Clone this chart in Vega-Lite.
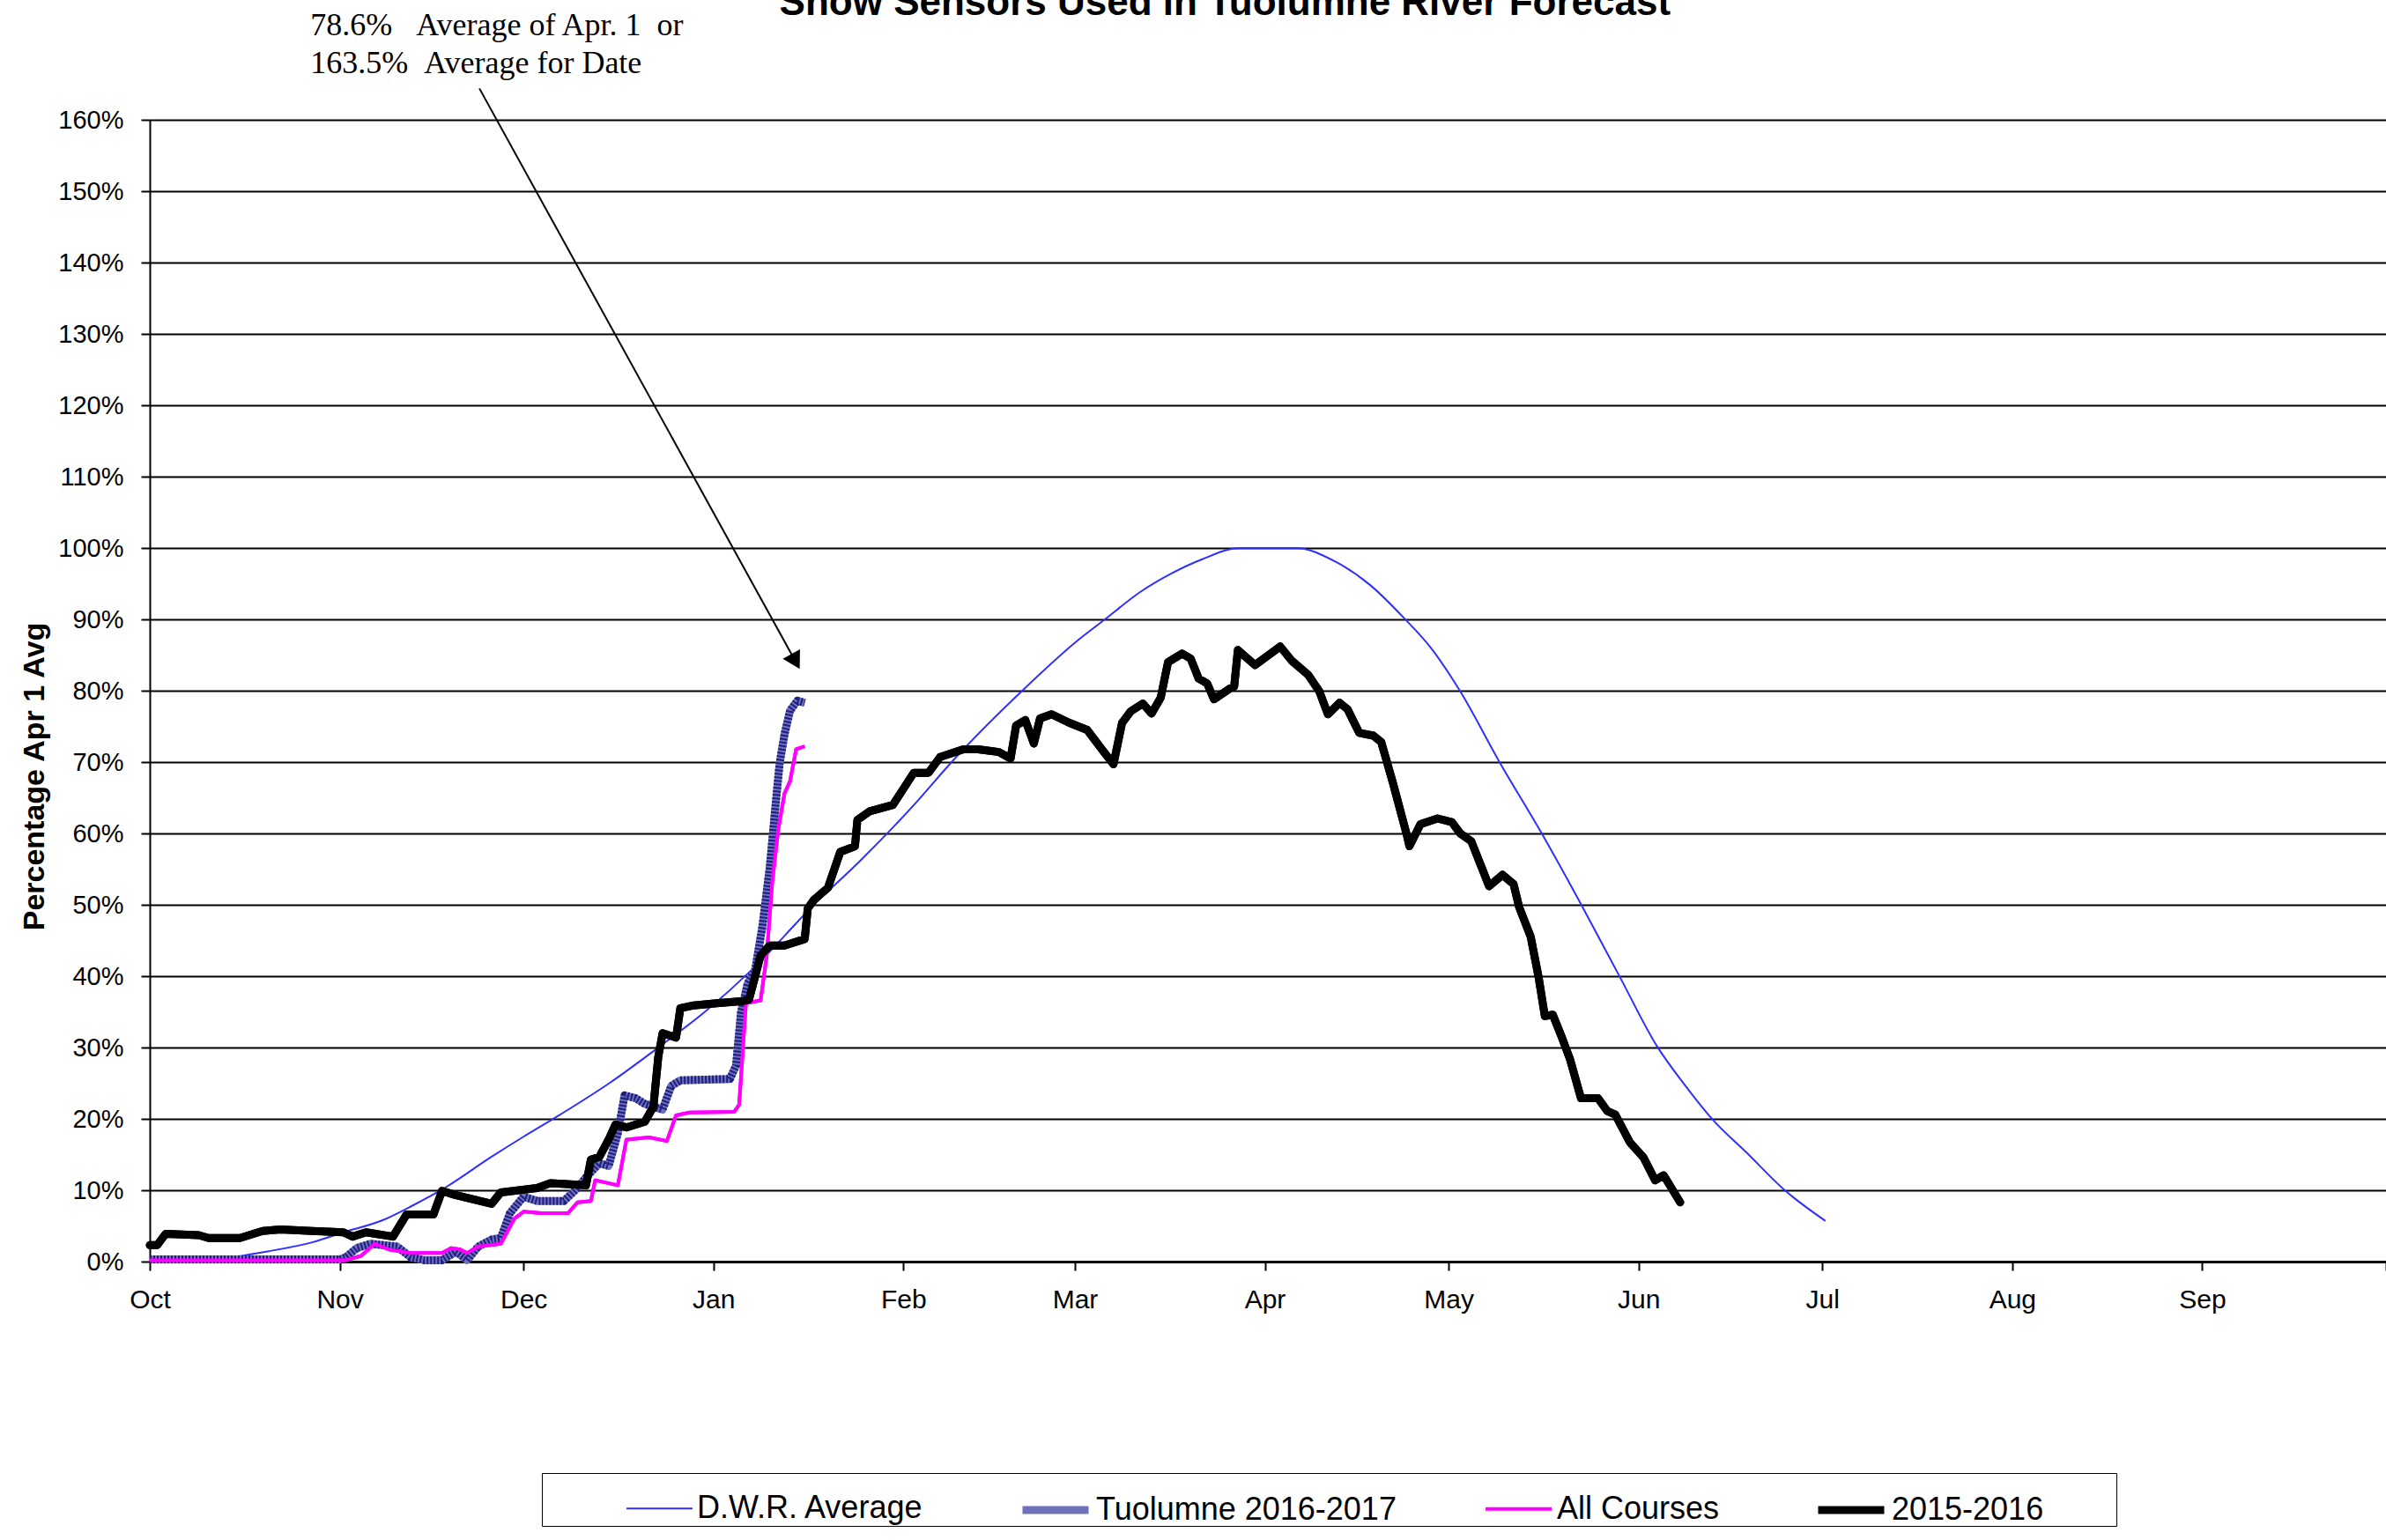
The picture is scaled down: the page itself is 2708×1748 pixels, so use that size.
{
  "$schema": "https://vega.github.io/schema/vega-lite/v6.json",
  "autosize": {"type": "none"},
  "width": 2538,
  "height": 1296,
  "padding": {"left": 170, "top": 136, "right": 0, "bottom": 316},
  "background": "white",
  "config": {"view": {"stroke": null}},
  "datasets": {
    "lines": [
      {"series": "D.W.R. Average", "day": 0, "pct": 0},
      {"series": "D.W.R. Average", "day": 7, "pct": 0.1},
      {"series": "D.W.R. Average", "day": 14, "pct": 0.7},
      {"series": "D.W.R. Average", "day": 19, "pct": 1.4},
      {"series": "D.W.R. Average", "day": 26.5, "pct": 2.7},
      {"series": "D.W.R. Average", "day": 31.6, "pct": 4.1},
      {"series": "D.W.R. Average", "day": 38, "pct": 5.8},
      {"series": "D.W.R. Average", "day": 43, "pct": 7.9},
      {"series": "D.W.R. Average", "day": 47.7, "pct": 10.1},
      {"series": "D.W.R. Average", "day": 55.8, "pct": 14.7},
      {"series": "D.W.R. Average", "day": 61, "pct": 17.5},
      {"series": "D.W.R. Average", "day": 66.8, "pct": 20.5},
      {"series": "D.W.R. Average", "day": 75, "pct": 25},
      {"series": "D.W.R. Average", "day": 83, "pct": 30},
      {"series": "D.W.R. Average", "day": 90.6, "pct": 35},
      {"series": "D.W.R. Average", "day": 98.4, "pct": 41},
      {"series": "D.W.R. Average", "day": 108.4, "pct": 50},
      {"series": "D.W.R. Average", "day": 116, "pct": 56.2},
      {"series": "D.W.R. Average", "day": 124.2, "pct": 63.5},
      {"series": "D.W.R. Average", "day": 131.4, "pct": 70.5},
      {"series": "D.W.R. Average", "day": 142.4, "pct": 80},
      {"series": "D.W.R. Average", "day": 151.1, "pct": 86.8},
      {"series": "D.W.R. Average", "day": 155.9, "pct": 90},
      {"series": "D.W.R. Average", "day": 161.6, "pct": 93.8},
      {"series": "D.W.R. Average", "day": 166.9, "pct": 96.5},
      {"series": "D.W.R. Average", "day": 171.7, "pct": 98.4},
      {"series": "D.W.R. Average", "day": 178, "pct": 100},
      {"series": "D.W.R. Average", "day": 187, "pct": 100},
      {"series": "D.W.R. Average", "day": 193.7, "pct": 98},
      {"series": "D.W.R. Average", "day": 199.2, "pct": 94.8},
      {"series": "D.W.R. Average", "day": 204.7, "pct": 90.2},
      {"series": "D.W.R. Average", "day": 209.3, "pct": 85.8},
      {"series": "D.W.R. Average", "day": 213.9, "pct": 79.9},
      {"series": "D.W.R. Average", "day": 220.3, "pct": 70},
      {"series": "D.W.R. Average", "day": 227.2, "pct": 60},
      {"series": "D.W.R. Average", "day": 233.6, "pct": 50.1},
      {"series": "D.W.R. Average", "day": 240, "pct": 39.8},
      {"series": "D.W.R. Average", "day": 246, "pct": 30.2},
      {"series": "D.W.R. Average", "day": 250.5, "pct": 24.8},
      {"series": "D.W.R. Average", "day": 255.1, "pct": 19.9},
      {"series": "D.W.R. Average", "day": 260.6, "pct": 15.3},
      {"series": "D.W.R. Average", "day": 267, "pct": 9.9},
      {"series": "D.W.R. Average", "day": 273.5, "pct": 5.7},

      {"series": "Tuolumne 2016-2017", "day": 0, "pct": 0.3},
      {"series": "Tuolumne 2016-2017", "day": 31, "pct": 0.3},
      {"series": "Tuolumne 2016-2017", "day": 32, "pct": 0.6},
      {"series": "Tuolumne 2016-2017", "day": 33.8, "pct": 1.9},
      {"series": "Tuolumne 2016-2017", "day": 36, "pct": 2.5},
      {"series": "Tuolumne 2016-2017", "day": 40.4, "pct": 2.1},
      {"series": "Tuolumne 2016-2017", "day": 42.6, "pct": 0.6},
      {"series": "Tuolumne 2016-2017", "day": 44.8, "pct": 0.2},
      {"series": "Tuolumne 2016-2017", "day": 47.7, "pct": 0.2},
      {"series": "Tuolumne 2016-2017", "day": 50, "pct": 1.4},
      {"series": "Tuolumne 2016-2017", "day": 51.8, "pct": 0.2},
      {"series": "Tuolumne 2016-2017", "day": 53.6, "pct": 2.1},
      {"series": "Tuolumne 2016-2017", "day": 55.8, "pct": 3.1},
      {"series": "Tuolumne 2016-2017", "day": 57.3, "pct": 3.3},
      {"series": "Tuolumne 2016-2017", "day": 58.8, "pct": 6.8},
      {"series": "Tuolumne 2016-2017", "day": 61, "pct": 9.1},
      {"series": "Tuolumne 2016-2017", "day": 63.2, "pct": 8.5},
      {"series": "Tuolumne 2016-2017", "day": 67.6, "pct": 8.5},
      {"series": "Tuolumne 2016-2017", "day": 69.8, "pct": 10.3},
      {"series": "Tuolumne 2016-2017", "day": 71.2, "pct": 11.8},
      {"series": "Tuolumne 2016-2017", "day": 73.4, "pct": 13.8},
      {"series": "Tuolumne 2016-2017", "day": 74.9, "pct": 13.4},
      {"series": "Tuolumne 2016-2017", "day": 76.4, "pct": 18},
      {"series": "Tuolumne 2016-2017", "day": 77.5, "pct": 23.3},
      {"series": "Tuolumne 2016-2017", "day": 79.3, "pct": 22.9},
      {"series": "Tuolumne 2016-2017", "day": 80.8, "pct": 22.1},
      {"series": "Tuolumne 2016-2017", "day": 83.7, "pct": 21.3},
      {"series": "Tuolumne 2016-2017", "day": 85.1, "pct": 24.6},
      {"series": "Tuolumne 2016-2017", "day": 86.6, "pct": 25.4},
      {"series": "Tuolumne 2016-2017", "day": 94.7, "pct": 25.6},
      {"series": "Tuolumne 2016-2017", "day": 95.7, "pct": 27.5},
      {"series": "Tuolumne 2016-2017", "day": 96.5, "pct": 34.9},
      {"series": "Tuolumne 2016-2017", "day": 97.6, "pct": 39},
      {"series": "Tuolumne 2016-2017", "day": 98.8, "pct": 40.8},
      {"series": "Tuolumne 2016-2017", "day": 100, "pct": 47},
      {"series": "Tuolumne 2016-2017", "day": 101.2, "pct": 55.3},
      {"series": "Tuolumne 2016-2017", "day": 102.1, "pct": 63.6},
      {"series": "Tuolumne 2016-2017", "day": 102.8, "pct": 69.8},
      {"series": "Tuolumne 2016-2017", "day": 103.6, "pct": 73.9},
      {"series": "Tuolumne 2016-2017", "day": 104.5, "pct": 77.2},
      {"series": "Tuolumne 2016-2017", "day": 105.7, "pct": 78.6},
      {"series": "Tuolumne 2016-2017", "day": 106.9, "pct": 78.3},

      {"series": "All Courses", "day": 0, "pct": 0.2},
      {"series": "All Courses", "day": 32, "pct": 0.2},
      {"series": "All Courses", "day": 34.5, "pct": 0.8},
      {"series": "All Courses", "day": 36.7, "pct": 2.5},
      {"series": "All Courses", "day": 39, "pct": 1.7},
      {"series": "All Courses", "day": 42.6, "pct": 1.2},
      {"series": "All Courses", "day": 47.7, "pct": 1.2},
      {"series": "All Courses", "day": 49.2, "pct": 1.9},
      {"series": "All Courses", "day": 50.7, "pct": 1.7},
      {"series": "All Courses", "day": 51.8, "pct": 1.2},
      {"series": "All Courses", "day": 53.6, "pct": 2.1},
      {"series": "All Courses", "day": 57.3, "pct": 2.5},
      {"series": "All Courses", "day": 59.5, "pct": 6},
      {"series": "All Courses", "day": 61, "pct": 7},
      {"series": "All Courses", "day": 63.9, "pct": 6.8},
      {"series": "All Courses", "day": 68.3, "pct": 6.8},
      {"series": "All Courses", "day": 69.8, "pct": 8.3},
      {"series": "All Courses", "day": 72, "pct": 8.5},
      {"series": "All Courses", "day": 72.7, "pct": 11.4},
      {"series": "All Courses", "day": 76.4, "pct": 10.7},
      {"series": "All Courses", "day": 77.8, "pct": 17.1},
      {"series": "All Courses", "day": 81.5, "pct": 17.4},
      {"series": "All Courses", "day": 84.4, "pct": 16.9},
      {"series": "All Courses", "day": 85.9, "pct": 20.5},
      {"series": "All Courses", "day": 88.1, "pct": 20.9},
      {"series": "All Courses", "day": 95.4, "pct": 21},
      {"series": "All Courses", "day": 96.2, "pct": 22},
      {"series": "All Courses", "day": 97.3, "pct": 36.2},
      {"series": "All Courses", "day": 99.7, "pct": 36.6},
      {"series": "All Courses", "day": 100.7, "pct": 42.9},
      {"series": "All Courses", "day": 101.6, "pct": 53.2},
      {"series": "All Courses", "day": 102.6, "pct": 60.7},
      {"series": "All Courses", "day": 103.6, "pct": 65.6},
      {"series": "All Courses", "day": 104.5, "pct": 67.3},
      {"series": "All Courses", "day": 105.5, "pct": 71.8},
      {"series": "All Courses", "day": 106.9, "pct": 72.2},

      {"series": "2015-2016", "day": 0, "pct": 2.3},
      {"series": "2015-2016", "day": 1.2, "pct": 2.3},
      {"series": "2015-2016", "day": 2.6, "pct": 3.9},
      {"series": "2015-2016", "day": 8, "pct": 3.7},
      {"series": "2015-2016", "day": 9.6, "pct": 3.3},
      {"series": "2015-2016", "day": 14.7, "pct": 3.3},
      {"series": "2015-2016", "day": 18.4, "pct": 4.3},
      {"series": "2015-2016", "day": 21.3, "pct": 4.5},
      {"series": "2015-2016", "day": 26.5, "pct": 4.3},
      {"series": "2015-2016", "day": 31.6, "pct": 4.1},
      {"series": "2015-2016", "day": 33.1, "pct": 3.5},
      {"series": "2015-2016", "day": 35.3, "pct": 4.1},
      {"series": "2015-2016", "day": 39.7, "pct": 3.5},
      {"series": "2015-2016", "day": 41.9, "pct": 6.6},
      {"series": "2015-2016", "day": 46.3, "pct": 6.6},
      {"series": "2015-2016", "day": 47.7, "pct": 9.9},
      {"series": "2015-2016", "day": 50, "pct": 9.3},
      {"series": "2015-2016", "day": 55.8, "pct": 8.1},
      {"series": "2015-2016", "day": 57.3, "pct": 9.7},
      {"series": "2015-2016", "day": 63.2, "pct": 10.3},
      {"series": "2015-2016", "day": 65.4, "pct": 11},
      {"series": "2015-2016", "day": 71.2, "pct": 10.7},
      {"series": "2015-2016", "day": 72, "pct": 14.3},
      {"series": "2015-2016", "day": 73.4, "pct": 14.7},
      {"series": "2015-2016", "day": 74.9, "pct": 17.1},
      {"series": "2015-2016", "day": 76, "pct": 19.2},
      {"series": "2015-2016", "day": 77.8, "pct": 18.8},
      {"series": "2015-2016", "day": 80.8, "pct": 19.6},
      {"series": "2015-2016", "day": 82.2, "pct": 21.7},
      {"series": "2015-2016", "day": 83, "pct": 28.7},
      {"series": "2015-2016", "day": 83.7, "pct": 32},
      {"series": "2015-2016", "day": 85.9, "pct": 31.4},
      {"series": "2015-2016", "day": 86.6, "pct": 35.5},
      {"series": "2015-2016", "day": 88.8, "pct": 35.9},
      {"series": "2015-2016", "day": 92.5, "pct": 36.2},
      {"series": "2015-2016", "day": 96.9, "pct": 36.5},
      {"series": "2015-2016", "day": 97.8, "pct": 36.7},
      {"series": "2015-2016", "day": 99.7, "pct": 42.9},
      {"series": "2015-2016", "day": 101.2, "pct": 44.3},
      {"series": "2015-2016", "day": 103.6, "pct": 44.3},
      {"series": "2015-2016", "day": 106.9, "pct": 45.2},
      {"series": "2015-2016", "day": 107.4, "pct": 49.5},
      {"series": "2015-2016", "day": 108.4, "pct": 50.7},
      {"series": "2015-2016", "day": 110.7, "pct": 52.4},
      {"series": "2015-2016", "day": 112.7, "pct": 57.4},
      {"series": "2015-2016", "day": 115.1, "pct": 58.2},
      {"series": "2015-2016", "day": 115.5, "pct": 61.9},
      {"series": "2015-2016", "day": 117.5, "pct": 63.1},
      {"series": "2015-2016", "day": 121.3, "pct": 64},
      {"series": "2015-2016", "day": 124.7, "pct": 68.5},
      {"series": "2015-2016", "day": 127.1, "pct": 68.5},
      {"series": "2015-2016", "day": 129, "pct": 70.7},
      {"series": "2015-2016", "day": 132.8, "pct": 71.8},
      {"series": "2015-2016", "day": 135.2, "pct": 71.8},
      {"series": "2015-2016", "day": 138.6, "pct": 71.4},
      {"series": "2015-2016", "day": 140.5, "pct": 70.5},
      {"series": "2015-2016", "day": 141.4, "pct": 75.1},
      {"series": "2015-2016", "day": 142.9, "pct": 75.9},
      {"series": "2015-2016", "day": 144.3, "pct": 72.6},
      {"series": "2015-2016", "day": 145.3, "pct": 76.1},
      {"series": "2015-2016", "day": 147.2, "pct": 76.7},
      {"series": "2015-2016", "day": 150.1, "pct": 75.5},
      {"series": "2015-2016", "day": 153, "pct": 74.5},
      {"series": "2015-2016", "day": 155.4, "pct": 71.8},
      {"series": "2015-2016", "day": 157.3, "pct": 69.7},
      {"series": "2015-2016", "day": 158.7, "pct": 75.5},
      {"series": "2015-2016", "day": 160.1, "pct": 77.1},
      {"series": "2015-2016", "day": 162.1, "pct": 78.2},
      {"series": "2015-2016", "day": 163.5, "pct": 76.8},
      {"series": "2015-2016", "day": 165, "pct": 79},
      {"series": "2015-2016", "day": 166.2, "pct": 84},
      {"series": "2015-2016", "day": 168.5, "pct": 85.2},
      {"series": "2015-2016", "day": 169.9, "pct": 84.5},
      {"series": "2015-2016", "day": 171.2, "pct": 81.7},
      {"series": "2015-2016", "day": 172.6, "pct": 81},
      {"series": "2015-2016", "day": 173.7, "pct": 78.8},
      {"series": "2015-2016", "day": 176.3, "pct": 80.3},
      {"series": "2015-2016", "day": 177, "pct": 80.6},
      {"series": "2015-2016", "day": 177.6, "pct": 85.7},
      {"series": "2015-2016", "day": 180.4, "pct": 83.6},
      {"series": "2015-2016", "day": 184.5, "pct": 86.2},
      {"series": "2015-2016", "day": 186.4, "pct": 84.2},
      {"series": "2015-2016", "day": 189.1, "pct": 82.2},
      {"series": "2015-2016", "day": 190.9, "pct": 79.9},
      {"series": "2015-2016", "day": 192.3, "pct": 76.7},
      {"series": "2015-2016", "day": 194.2, "pct": 78.3},
      {"series": "2015-2016", "day": 195.5, "pct": 77.4},
      {"series": "2015-2016", "day": 197.4, "pct": 74.1},
      {"series": "2015-2016", "day": 199.7, "pct": 73.7},
      {"series": "2015-2016", "day": 201, "pct": 72.8},
      {"series": "2015-2016", "day": 202.9, "pct": 67.1},
      {"series": "2015-2016", "day": 205.2, "pct": 59.7},
      {"series": "2015-2016", "day": 205.6, "pct": 58.2},
      {"series": "2015-2016", "day": 207.4, "pct": 61.3},
      {"series": "2015-2016", "day": 210.2, "pct": 62.1},
      {"series": "2015-2016", "day": 212.5, "pct": 61.6},
      {"series": "2015-2016", "day": 213.9, "pct": 60},
      {"series": "2015-2016", "day": 215.7, "pct": 58.9},
      {"series": "2015-2016", "day": 218.6, "pct": 52.6},
      {"series": "2015-2016", "day": 220.8, "pct": 54.2},
      {"series": "2015-2016", "day": 222.6, "pct": 52.9},
      {"series": "2015-2016", "day": 223.5, "pct": 49.7},
      {"series": "2015-2016", "day": 225.4, "pct": 45.5},
      {"series": "2015-2016", "day": 226.7, "pct": 39.8},
      {"series": "2015-2016", "day": 227.7, "pct": 34.4},
      {"series": "2015-2016", "day": 229, "pct": 34.6},
      {"series": "2015-2016", "day": 230.4, "pct": 31.6},
      {"series": "2015-2016", "day": 231.8, "pct": 28.4},
      {"series": "2015-2016", "day": 233.6, "pct": 22.9},
      {"series": "2015-2016", "day": 236.4, "pct": 22.9},
      {"series": "2015-2016", "day": 237.9, "pct": 21.1},
      {"series": "2015-2016", "day": 239.2, "pct": 20.6},
      {"series": "2015-2016", "day": 241.6, "pct": 16.7},
      {"series": "2015-2016", "day": 243.8, "pct": 14.6},
      {"series": "2015-2016", "day": 245.7, "pct": 11.4},
      {"series": "2015-2016", "day": 247.1, "pct": 12.1},
      {"series": "2015-2016", "day": 249.8, "pct": 8.3}
    ],
    "notes": [
      {"label": "78.6%\u00a0\u00a0\u00a0Average of Apr. 1\u00a0\u00a0or", "day": 26.2, "pct": 171.9},
      {"label": "163.5%\u00a0\u00a0Average for Date", "day": 26.2, "pct": 166.5}
    ],
    "heading": [
      {"label": "Snow Sensors Used in Tuolumne River Forecast", "day": 175.5, "pct": 174.7}
    ],
    "arrow": [
      {"day": 53.8, "pct": 164.4, "day2": 105.4, "pct2": 84.1}
    ]
  },
  "encoding": {
    "x": {
      "field": "day",
      "type": "quantitative",
      "scale": {"domain": [0, 365], "nice": false, "zero": false},
      "axis": {
        "values": [0, 31, 61, 92, 123, 151, 182, 212, 243, 273, 304, 335, 365],
        "labelExpr": "['Oct','Nov','Dec','Jan','Feb','Mar','Apr','May','Jun','Jul','Aug','Sep',''][indexof([0,31,61,92,123,151,182,212,243,273,304,335,365], datum.value)]",
        "grid": false,
        "title": null,
        "domainColor": "black",
        "domainWidth": 3,
        "tickColor": "black",
        "tickSize": 10,
        "tickWidth": 2,
        "labelFont": "Liberation Sans",
        "labelFontSize": 30,
        "labelColor": "black",
        "labelPadding": 18,
        "labelAlign": "center",
        "labelBaseline": "top",
        "labelDx": 5,
        "labelFlush": false,
        "labelOverlap": false
      }
    },
    "y": {
      "field": "pct",
      "type": "quantitative",
      "scale": {"domain": [0, 160], "nice": false, "zero": false},
      "axis": {
        "values": [0, 10, 20, 30, 40, 50, 60, 70, 80, 90, 100, 110, 120, 130, 140, 150, 160],
        "labelExpr": "datum.value + '%'",
        "grid": true,
        "gridColor": "black",
        "gridWidth": 2,
        "domainColor": "black",
        "domainWidth": 2,
        "tickColor": "black",
        "tickSize": 10,
        "tickWidth": 2,
        "labelFont": "Liberation Sans",
        "labelFontSize": 29,
        "labelColor": "black",
        "labelPadding": 20,
        "labelOverlap": false,
        "title": "Percentage Apr 1 Avg",
        "titleFont": "Liberation Sans",
        "titleFontSize": 34,
        "titleFontWeight": "bold",
        "titleColor": "black",
        "titleAngle": 270,
        "titleAlign": "center",
        "titleBaseline": "middle",
        "titleX": -131,
        "titleY": 745
      }
    }
  },
  "layer": [
    {
      "data": {"name": "lines"},
      "encoding": {
        "color": {
          "field": "series",
          "type": "nominal",
          "scale": {
            "type": "ordinal",
            "domain": ["D.W.R. Average", "Tuolumne 2016-2017", "All Courses", "2015-2016"],
            "range": ["#2f2fff", "#6d70bb", "#ff00ff", "#000000"]
          },
          "legend": {
            "orient": "none",
            "legendX": 445,
            "legendY": 1536,
            "direction": "horizontal",
            "title": " ",
            "titleOrient": "left",
            "titleFontSize": 10,
            "titlePadding": 95,
            "symbolType": "stroke",
            "symbolSize": 5625,
            "labelFont": "Liberation Sans",
            "labelFontSize": 36,
            "labelColor": "black",
            "labelLimit": 1000,
            "labelOffset": 4,
            "columnPadding": 93,
            "padding": 0,
            "strokeColor": "black",
            "fillColor": "white",
            "labelExpr": "datum.value == '2015-2016' ? datum.label + '\u2003\u2003\u00a0\u200b' : datum.label"
          }
        },
        "strokeWidth": {
          "field": "series",
          "type": "nominal",
          "scale": {
            "type": "ordinal",
            "domain": ["D.W.R. Average", "Tuolumne 2016-2017", "All Courses", "2015-2016"],
            "range": [2, 9, 4, 9]
          },
          "legend": {
            "orient": "none",
            "legendX": 445,
            "legendY": 1536,
            "direction": "horizontal",
            "title": " ",
            "titleOrient": "left",
            "titleFontSize": 10,
            "titlePadding": 95,
            "symbolType": "stroke",
            "symbolSize": 5625,
            "labelFont": "Liberation Sans",
            "labelFontSize": 36,
            "labelColor": "black",
            "labelLimit": 1000,
            "labelOffset": 4,
            "columnPadding": 93,
            "padding": 0,
            "strokeColor": "black",
            "fillColor": "white",
            "labelExpr": "datum.value == '2015-2016' ? datum.label + '\u2003\u2003\u00a0\u200b' : datum.label"
          }
        }
      },
      "layer": [
        {"transform": [{"filter": "datum.series == 'D.W.R. Average'"}], "mark": {"type": "line", "strokeJoin": "round", "interpolate": "monotone"}},
        {"transform": [{"filter": "datum.series == 'Tuolumne 2016-2017'"}], "mark": {"type": "line", "strokeJoin": "round"}},
        {"transform": [{"filter": "datum.series == 'All Courses'"}], "mark": {"type": "line", "strokeJoin": "round"}},
        {"transform": [{"filter": "datum.series == '2015-2016'"}], "mark": {"type": "line", "strokeJoin": "round", "strokeCap": "round"}}
      ]
    },
    {
      "data": {"name": "lines"},
      "transform": [{"filter": "datum.series == 'Tuolumne 2016-2017'"}],
      "mark": {"type": "line", "color": "#1e1e80", "strokeWidth": 9, "strokeDash": [2, 2], "strokeJoin": "round"},
      "encoding": {}
    },
    {
      "data": {"name": "lines"},
      "transform": [{"filter": "datum.series == 'All Courses'"}],
      "mark": {"type": "line", "color": "#ff00ff", "strokeWidth": 4, "strokeJoin": "round"},
      "encoding": {}
    },
    {
      "data": {"name": "lines"},
      "transform": [{"filter": "datum.series == '2015-2016'"}],
      "mark": {"type": "line", "color": "#000000", "strokeWidth": 9, "strokeJoin": "round", "strokeCap": "round"},
      "encoding": {}
    },
    {
      "data": {"name": "arrow"},
      "mark": {"type": "rule", "color": "black", "strokeWidth": 2},
      "encoding": {
        "x2": {"field": "day2"},
        "y2": {"field": "pct2"}
      }
    },
    {
      "data": {"name": "arrow"},
      "mark": {"type": "point", "shape": "triangle-down", "filled": true, "color": "black", "size": 500, "angle": 331, "opacity": 1},
      "encoding": {
        "x": {"field": "day2", "type": "quantitative"},
        "y": {"field": "pct2", "type": "quantitative"}
      }
    },
    {
      "data": {"name": "notes"},
      "mark": {"type": "text", "align": "left", "baseline": "alphabetic", "font": "Liberation Serif", "fontSize": 36, "color": "black"},
      "encoding": {
        "text": {"field": "label"}
      }
    },
    {
      "data": {"name": "heading"},
      "mark": {"type": "text", "align": "center", "baseline": "alphabetic", "font": "Liberation Sans", "fontWeight": "bold", "fontSize": 44, "color": "black"},
      "encoding": {
        "text": {"field": "label"}
      }
    }
  ]
}
